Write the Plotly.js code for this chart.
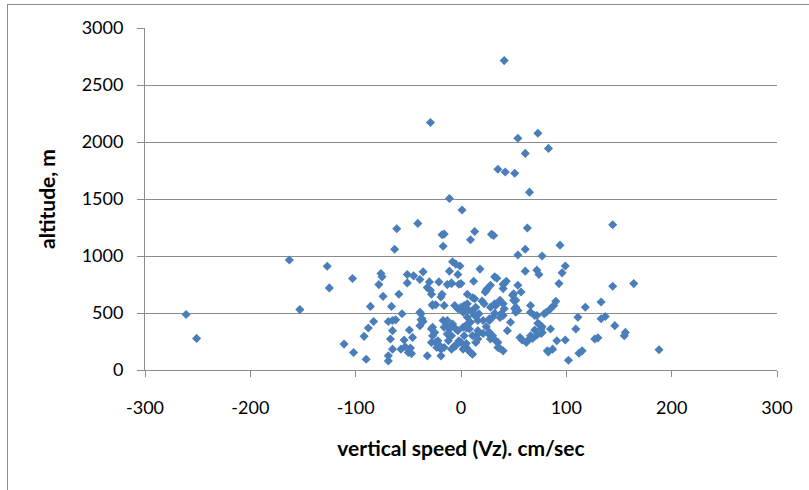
<!DOCTYPE html>
<html>
<head>
<meta charset="utf-8">
<script src="https://cdn.plot.ly/plotly-3.0.1.min.js"></script>
<style>
html,body{margin:0;padding:0;background:#fff;}
#wrap{position:relative;width:809px;height:490px;overflow:hidden;}
#frame{position:absolute;left:7px;top:4px;width:840px;height:520px;border-left:1px solid #8c8c8c;border-top:1px solid #8c8c8c;pointer-events:none;z-index:5;}
#chart{position:absolute;left:0;top:0;width:809px;height:490px;}
</style>
</head>
<body>
<div id="wrap"><div id="chart"></div><div id="frame"></div></div>
<script>
// vertical speed (cm/sec)
const vz = [
-261,-251,-163,-153,-127,-125,-111,-103,-102,-92,-90,-88,-83,-86,-78,-76,-75,-74,-69,-65,
-62,-65,-67,-65,-69,-69,-66,-59,-63,-61,-51,-45,-51,-56,-49,-54,-53,-48,-47,-57,
-46,-50,-41,-36,-39,-39,-38,-36,-39,-37,-32,-29,-28,-32,-28,-27,-28,-24,-23,-19,
-27,-24,-29,-30,-21,-19,-16,-17,-18,-16,-11,-11,-8,-5,-1,-3,-13,-9,-2,-3,
-16,-13,-12,-13,-5,-6,0,5,6,11,6,9,-27,-25,-17,-14,-11,-8,-9,-3,
2,6,8,-2,3,16,11,14,-22,-20,-16,-9,-5,2,9,-18,-9,-27,-6,0,
6,14,5,11,17,-38,-19,
1,9,13,29,31,18,12,0,32,34,43,40,28,25,23,54,57,50,6,11,
13,20,37,40,32,50,52,54,66,66,72,81,85,88,90,118,133,133,137,111,
109,127,130,115,112,102,99,91,87,83,85,77,76,72,70,68,65,58,56,73,
47,44,40,37,30,32,27,24,16,13,10,6,3,2,6,5,16,21,27,28,
35,37,40,5,10,24,41,40,49,52,33,28,22,21,27,38,41,51,52,70,
79,27,30,33,35,16,62,66,74,76,77,82,
41,54,73,83,61,35,42,51,65,63,144,94,61,54,77,61,72,74,99,96,93,
144,164,146,156,155,188
];
// altitude (m)
const alt = [
487,277,965,530,910,720,227,803,153,295,94,369,425,558,749,847,817,646,425,434,
440,345,272,183,124,80,558,664,1059,1239,838,826,764,493,351,263,204,192,144,183,
286,153,1286,861,794,507,440,425,389,449,723,699,664,124,360,301,242,242,197,183,
575,572,2171,773,773,640,566,1085,1186,1192,1504,867,950,929,912,838,749,764,752,537,
375,315,257,434,360,212,242,233,183,138,375,419,375,330,434,389,360,404,301,345,
375,404,360,257,301,345,301,242,257,212,197,183,212,183,153,664,758,566,566,551,
581,551,522,507,493,493,124,
1404,1142,1215,1190,1180,885,779,758,817,805,779,752,743,714,684,743,684,669,664,634,
625,604,611,581,581,611,551,522,566,507,478,507,537,566,602,551,596,449,469,463,
360,272,282,168,147,86,263,257,183,159,360,380,321,307,350,277,272,263,285,410,
419,345,478,460,463,498,434,380,434,478,516,537,566,507,463,369,315,321,310,272,
242,189,168,197,147,699,758,714,655,611,566,551,581,434,449,493,537,537,507,478,
493,330,301,257,197,272,242,301,404,360,330,168,
2714,2033,2077,1944,1900,1761,1737,1726,1560,1245,1274,1095,1059,1009,1000,867,876,838,912,852,758,
735,758,389,330,301,177
];
const xTicks = [-300,-200,-100,0,100,200,300];
const yTicks = [0,500,1000,1500,2000,2500,3000];

const font = "Lato, 'Open Sans', sans-serif";
const trace = {
  x: vz, y: alt, type: 'scatter', mode: 'markers',
  marker: {symbol: 'diamond', size: 7, color: '#4a7ebb', line: {width: 0}},
  hoverinfo: 'x+y'
};
const layout = {
  width: 809, height: 490,
  margin: {l: 145, r: 32, t: 28, b: 120},
  paper_bgcolor: '#ffffff', plot_bgcolor: '#ffffff',
  showlegend: false,
  font: {family: font, size: 18, color: '#000'},
  xaxis: {
    range: [-300, 300], tickvals: xTicks, ticktext: xTicks.map(String),
    showgrid: false, zeroline: false,
    showline: true, linecolor: '#8c8c8c', linewidth: 1,
    ticks: 'outside', ticklen: 6, tickcolor: '#8c8c8c', tickwidth: 1,
    ticklabelstandoff: 15,
    tickfont: {family: font, size: 18, color: '#000'},
    title: {text: 'vertical speed (Vz). cm/sec', font: {family: font, size: 21, color: '#000', weight: 'bold'}, standoff: 24}
  },
  yaxis: {
    range: [0, 3000], tickvals: yTicks, ticktext: yTicks.map(String),
    showgrid: true, gridcolor: '#8c8c8c', gridwidth: 1, zeroline: false,
    showline: true, linecolor: '#8c8c8c', linewidth: 1,
    ticks: 'outside', ticklen: 7, tickcolor: '#8c8c8c', tickwidth: 1,
    ticklabelstandoff: 10,
    tickfont: {family: font, size: 18, color: '#000'},
    title: {text: 'altitude, m', font: {family: font, size: 21, color: '#000', weight: 'bold'}, standoff: 20}
  }
};
Plotly.newPlot('chart', [trace], layout, {displayModeBar: false, staticPlot: true});
</script>
</body>
</html>
